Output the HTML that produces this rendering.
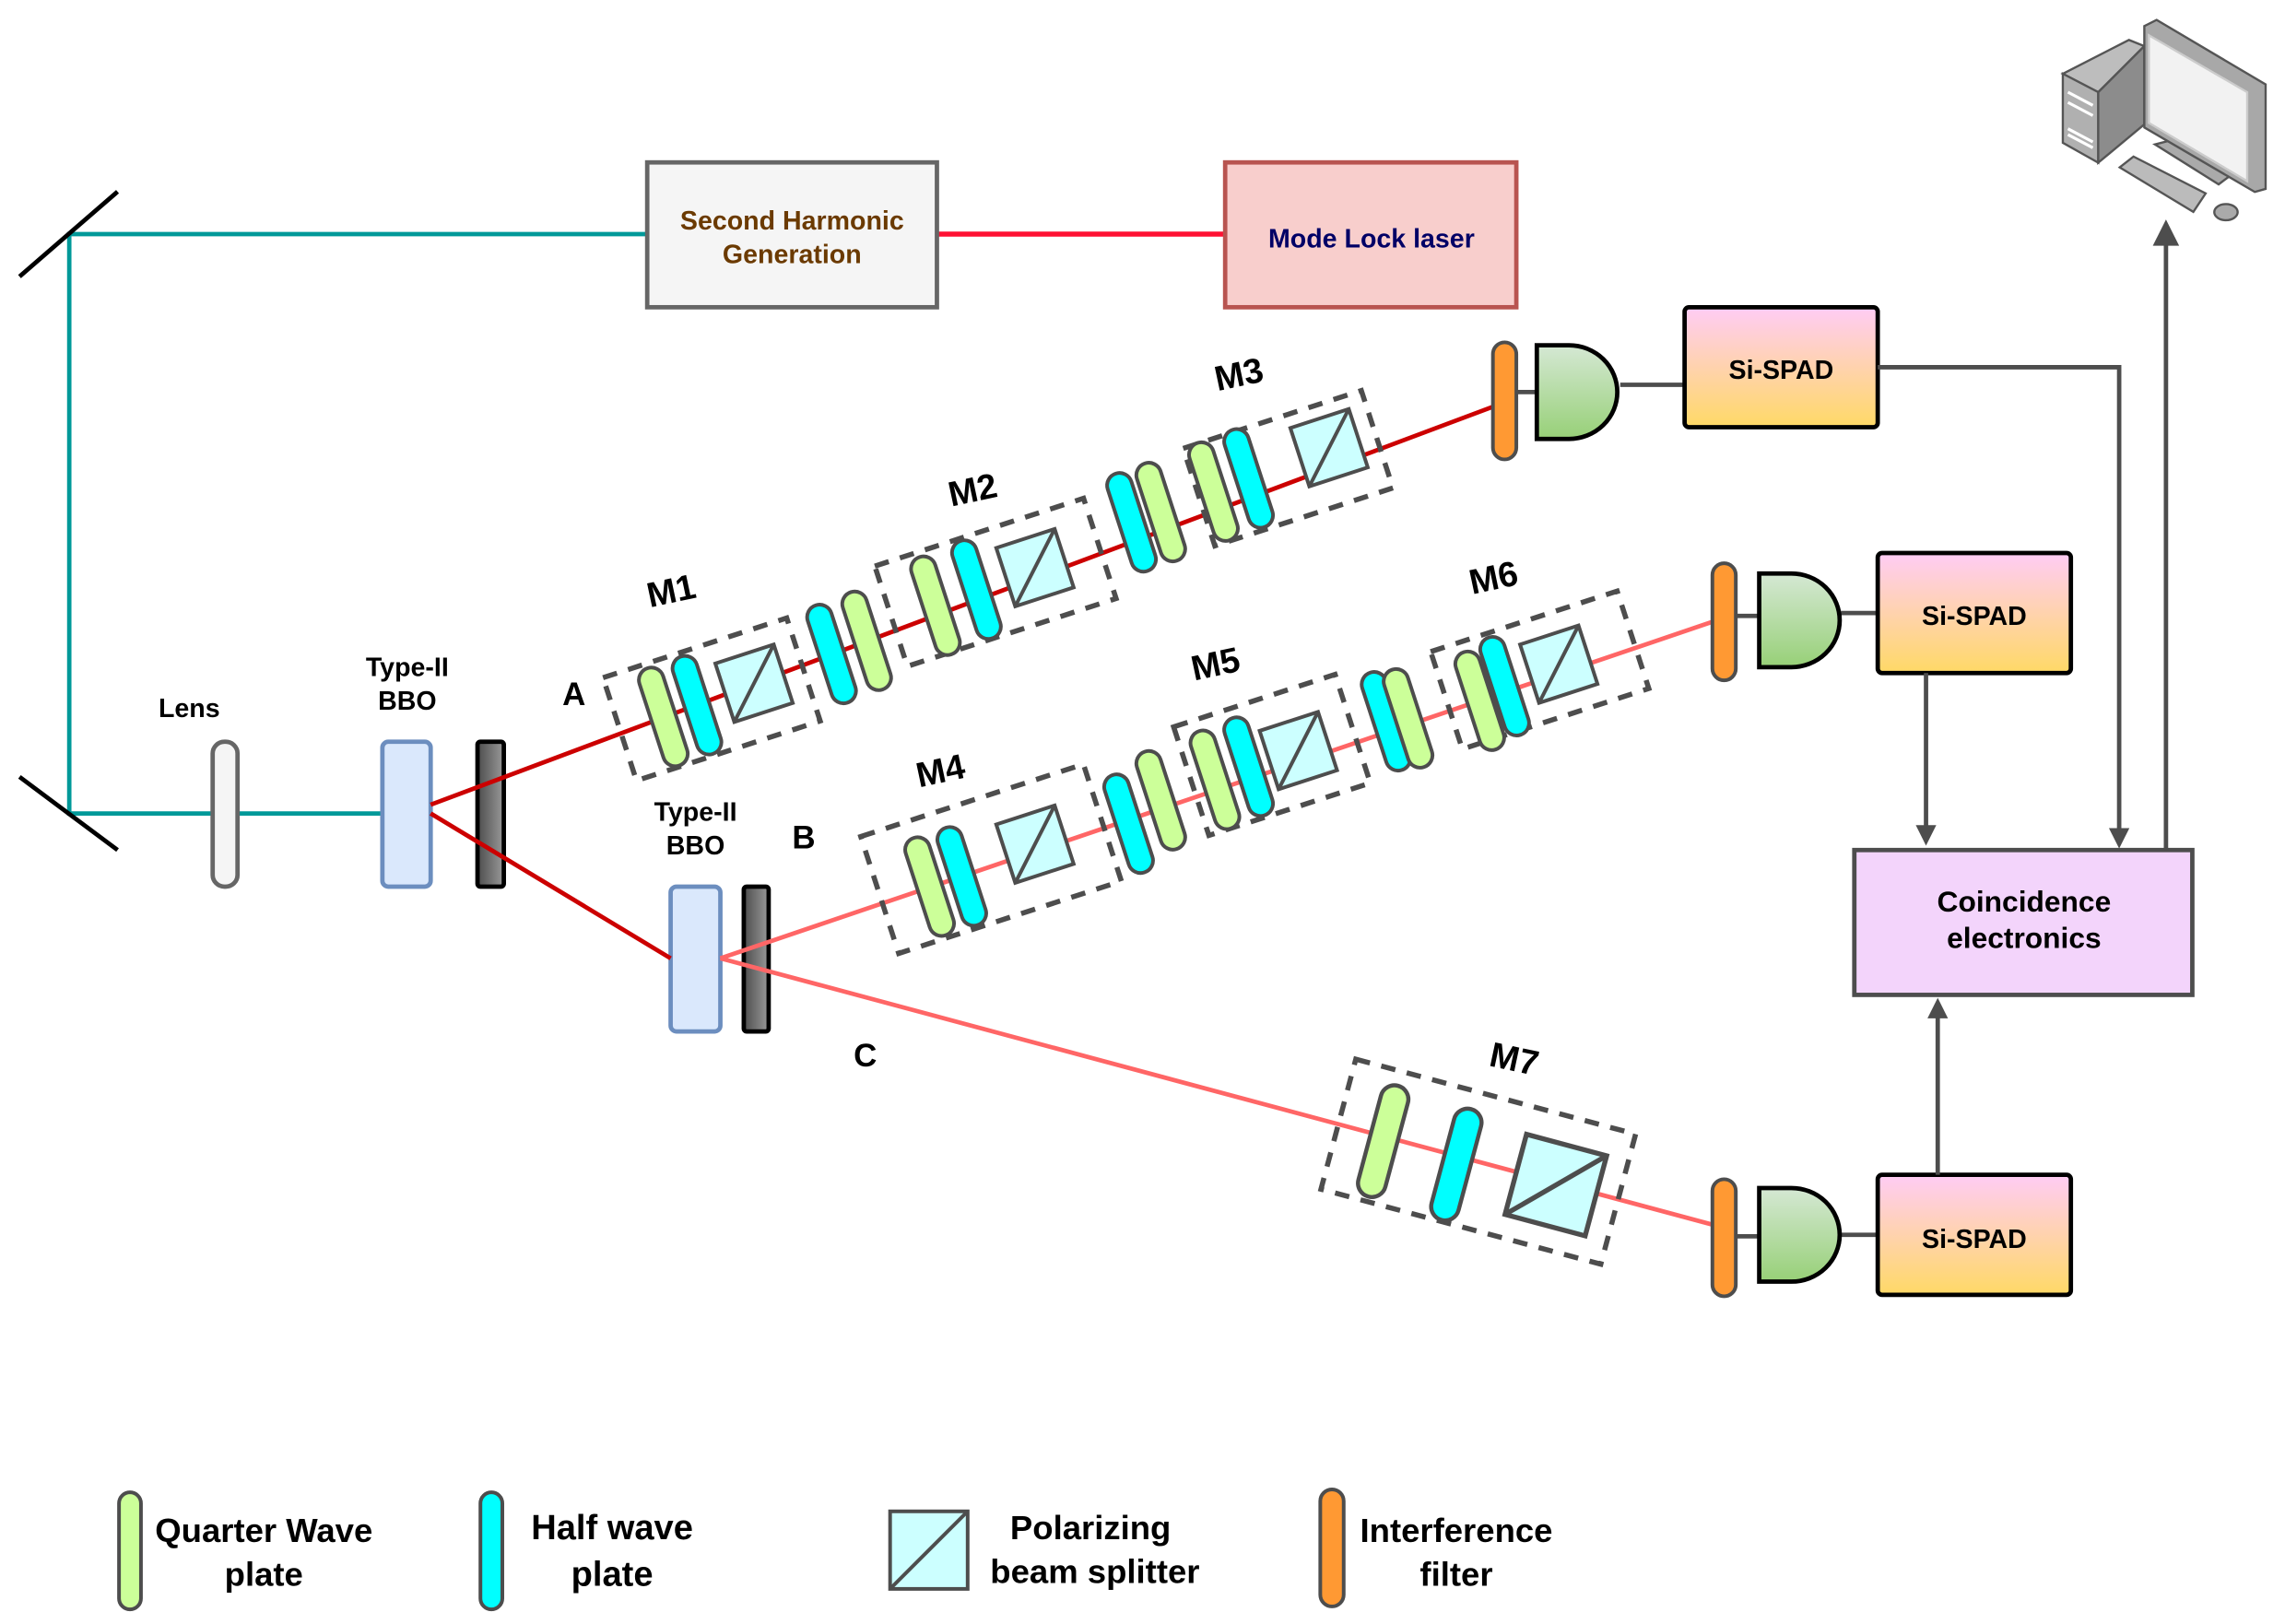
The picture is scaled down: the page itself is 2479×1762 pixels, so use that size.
<!DOCTYPE html>
<html><head><meta charset="utf-8"><style>
html,body{margin:0;padding:0;background:#fff;}
svg{display:block;}
text{font-family:"Liberation Sans",sans-serif;font-weight:bold;}
</style></head><body>
<svg width="2479" height="1762" viewBox="0 0 1561 1110" xmlns="http://www.w3.org/2000/svg">
<defs>
<linearGradient id="spad" x1="0" y1="0" x2="0" y2="1"><stop offset="0" stop-color="#ffccf5"/><stop offset="1" stop-color="#ffd966"/></linearGradient>
<linearGradient id="det" x1="0" y1="0" x2="0" y2="1"><stop offset="0" stop-color="#d5e8d4"/><stop offset="1" stop-color="#97d077"/></linearGradient>
<linearGradient id="dark" x1="0" y1="0" x2="1" y2="0"><stop offset="0" stop-color="#4d4d4d"/><stop offset="1" stop-color="#999"/></linearGradient>
<g id="q"><rect x="-8.5" y="-35" width="17" height="70" rx="8.5" fill="#ccff99" stroke="#4d4d4d" stroke-width="2.5"/></g>
<g id="h"><rect x="-8.5" y="-35" width="17" height="70" rx="8.5" fill="#00ffff" stroke="#4d4d4d" stroke-width="2.5"/></g>
<g id="p"><rect x="-21" y="-21" width="42" height="42" fill="#ccffff" stroke="#4d4d4d" stroke-width="2.5"/><line x1="-21" y1="21" x2="21" y2="-21" stroke="#4d4d4d" stroke-width="2.5"/></g>
<g id="f"><rect x="-8" y="-40" width="16" height="80" rx="8" fill="#ff9933" stroke="#4d4d4d" stroke-width="2.5"/></g>
<g id="d"><path d="M0,-32 L22,-32 A33,32 0 0 1 22,32 L0,32 Z" fill="url(#det)" stroke="#000" stroke-width="3"/></g>
</defs>

<!-- pump path -->
<polyline points="442,160 47,160 47,556 262,556" fill="none" stroke="#009999" stroke-width="3"/>
<line x1="13" y1="189" x2="80" y2="131" stroke="#000" stroke-width="3"/>
<line x1="13" y1="531" x2="80" y2="581" stroke="#000" stroke-width="3"/>
<line x1="640" y1="160" x2="837" y2="160" stroke="#ff1133" stroke-width="3.5"/>
<rect x="442" y="111" width="198" height="99" fill="#f5f5f5" stroke="#666" stroke-width="3"/>
<text x="541" y="157" font-size="18" fill="#6b3a00" text-anchor="middle">Second Harmonic</text>
<text x="541" y="180" font-size="18" fill="#6b3a00" text-anchor="middle">Generation</text>
<rect x="837" y="111" width="199" height="99" fill="#f8cecc" stroke="#b85450" stroke-width="3"/>
<text x="937" y="169" font-size="18" fill="#000066" text-anchor="middle">Mode Lock laser</text>

<!-- lens, BBO -->
<rect x="145" y="507" width="17" height="99" rx="8" fill="#f5f5f5" stroke="#666" stroke-width="3"/>
<text x="129" y="490" font-size="18" text-anchor="middle">Lens</text>
<rect x="261" y="507" width="33" height="99" rx="4" fill="#dae8fc" stroke="#6c8ebf" stroke-width="3"/>
<rect x="326" y="507" width="18" height="99" rx="2" fill="url(#dark)" stroke="#000" stroke-width="3"/>
<text x="278" y="462" font-size="18" text-anchor="middle">Type-II</text>
<text x="278" y="485" font-size="18" text-anchor="middle">BBO</text>
<rect x="458" y="606" width="34" height="99" rx="4" fill="#dae8fc" stroke="#6c8ebf" stroke-width="3"/>
<rect x="508" y="606" width="17" height="99" rx="2" fill="url(#dark)" stroke="#000" stroke-width="3"/>
<text x="475" y="561" font-size="18" text-anchor="middle">Type-II</text>
<text x="475" y="584" font-size="18" text-anchor="middle">BBO</text>

<!-- beams -->
<line x1="294" y1="550" x2="1020" y2="278" stroke="#cc0000" stroke-width="3"/>
<line x1="294" y1="556" x2="458" y2="655" stroke="#cc0000" stroke-width="3"/>
<line x1="492" y1="655" x2="1170" y2="425" stroke="#ff6666" stroke-width="3"/>
<line x1="492" y1="655" x2="1170" y2="837" stroke="#ff6666" stroke-width="3"/>

<text x="392" y="482" font-size="22" text-anchor="middle">A</text>
<text x="549" y="580" font-size="22" text-anchor="middle">B</text>
<text x="591" y="729" font-size="22" text-anchor="middle">C</text>

<!-- dashed boxes -->
<g fill="none" stroke="#4d4d4d" stroke-width="3.5" stroke-dasharray="10 8">
<rect x="-66" y="-37" width="132" height="74" transform="translate(486,478) rotate(-18)"/>
<rect x="-75" y="-36" width="150" height="72" transform="translate(680,398) rotate(-18)"/>
<rect x="-64" y="-35" width="128" height="70" transform="translate(880,320) rotate(-18)"/>
<rect x="-80" y="-42" width="160" height="84" transform="translate(677,587) rotate(-18)"/>
<rect x="-58" y="-39" width="116" height="78" transform="translate(869,516) rotate(-18)"/>
<rect x="-67" y="-35" width="134" height="70" transform="translate(1052,458) rotate(-18)"/>
<rect x="-99" y="-46" width="198" height="92" transform="translate(1010,794) rotate(15)"/>
</g>

<!-- beam A elements -->
<use href="#q" transform="translate(453,490) rotate(-18)"/>
<use href="#h" transform="translate(476,482) rotate(-18)"/>
<use href="#p" transform="translate(515,467) rotate(-18)"/>
<use href="#h" transform="translate(568,447) rotate(-18)"/>
<use href="#q" transform="translate(592,438) rotate(-18)"/>
<use href="#q" transform="translate(639,414) rotate(-18)"/>
<use href="#h" transform="translate(667,403) rotate(-18)"/>
<use href="#p" transform="translate(707,388) rotate(-18)"/>
<use href="#h" transform="translate(773,357) rotate(-18)"/>
<use href="#q" transform="translate(793,350) rotate(-18)"/>
<use href="#q" transform="translate(829,336) rotate(-18)"/>
<use href="#h" transform="translate(853,327) rotate(-18)"/>
<use href="#p" transform="translate(908,306) rotate(-18)"/>
<!-- beam B -->
<use href="#q" transform="translate(635,606) rotate(-18)"/>
<use href="#h" transform="translate(657,599) rotate(-18)"/>
<use href="#p" transform="translate(707,577) rotate(-18)"/>
<use href="#h" transform="translate(771,563) rotate(-18)"/>
<use href="#q" transform="translate(793,547) rotate(-18)"/>
<use href="#q" transform="translate(830,533) rotate(-18)"/>
<use href="#h" transform="translate(853,524) rotate(-18)"/>
<use href="#p" transform="translate(887,513) rotate(-18)"/>
<use href="#h" transform="translate(947,493) rotate(-18)"/>
<use href="#q" transform="translate(962,491) rotate(-18)"/>
<use href="#q" transform="translate(1011,479) rotate(-18)"/>
<use href="#h" transform="translate(1028,469) rotate(-18)"/>
<use href="#p" transform="translate(1065,454) rotate(-18)"/>
<!-- beam C -->
<use href="#q" transform="translate(945,780) rotate(15) scale(1.12)"/>
<use href="#h" transform="translate(995,796) rotate(15) scale(1.12)"/>
<use href="#p" transform="translate(1063,810) rotate(15) scale(1.35)"/>

<!-- M labels -->
<g font-size="24">
<text x="458" y="412" text-anchor="middle" transform="rotate(-12 458 402)">M1</text>
<text x="664" y="343" text-anchor="middle" transform="rotate(-12 664 333)">M2</text>
<text x="846" y="264" text-anchor="middle" transform="rotate(-12 846 254)">M3</text>
<text x="642" y="535" text-anchor="middle" transform="rotate(-12 642 525)">M4</text>
<text x="830" y="462" text-anchor="middle" transform="rotate(-12 830 452)">M5</text>
<text x="1020" y="403" text-anchor="middle" transform="rotate(-12 1020 393)">M6</text>
<text x="1035" y="732" text-anchor="middle" transform="rotate(12 1035 722)">M7</text>
</g>

<!-- detectors -->
<g stroke="#4d4d4d" stroke-width="3">
<line x1="1036" y1="268" x2="1050" y2="268"/><line x1="1107" y1="263" x2="1151" y2="263"/>
<line x1="1186" y1="421" x2="1202" y2="421"/><line x1="1258" y1="419" x2="1283" y2="419"/>
<line x1="1186" y1="845" x2="1202" y2="845"/><line x1="1258" y1="844" x2="1283" y2="844"/>
</g>
<use href="#f" transform="translate(1028,274)"/>
<use href="#f" transform="translate(1178,425)"/>
<use href="#f" transform="translate(1178,846)"/>
<use href="#d" transform="translate(1050,268)"/>
<use href="#d" transform="translate(1202,424)"/>
<use href="#d" transform="translate(1202,844)"/>

<rect x="1151" y="210" width="132" height="82" rx="3" fill="url(#spad)" stroke="#000" stroke-width="3"/>
<text x="1217" y="259" font-size="18" text-anchor="middle">Si-SPAD</text>
<rect x="1283" y="378" width="132" height="82" rx="3" fill="url(#spad)" stroke="#000" stroke-width="3"/>
<text x="1349" y="427" font-size="18" text-anchor="middle">Si-SPAD</text>
<rect x="1283" y="803" width="132" height="82" rx="3" fill="url(#spad)" stroke="#000" stroke-width="3"/>
<text x="1349" y="853" font-size="18" text-anchor="middle">Si-SPAD</text>

<rect x="1267" y="581" width="231" height="99" fill="#f3d4fb" stroke="#4d4d4d" stroke-width="3"/>
<text x="1383" y="623" font-size="20" text-anchor="middle">Coincidence</text>
<text x="1383" y="648" font-size="20" text-anchor="middle">electronics</text>

<!-- connectors -->
<g stroke="#4d4d4d" stroke-width="3" fill="none">
<polyline points="1283,251 1448,251 1448,568"/>
<line x1="1316" y1="460" x2="1316" y2="566"/>
<line x1="1324" y1="803" x2="1324" y2="695"/>
<line x1="1480" y1="581" x2="1480" y2="165"/>
</g>
<g fill="#4d4d4d">
<polygon points="1441,566 1455,566 1448,580"/>
<polygon points="1309,564 1323,564 1316,578"/>
<polygon points="1317,696 1331,696 1324,682"/>
<polygon points="1471,168 1489,168 1480,150"/>
</g>

<!-- computer -->
<g stroke="#555" stroke-width="1.5">
<polygon points="1409.5,50.4 1454.7,27.3 1465.2,31.5 1433.7,63" fill="#bdbdbd"/>
<polygon points="1409.5,50.4 1433.7,63 1433.7,111.2 1409.5,97.6" fill="#b0b0b0"/>
<polygon points="1433.7,63 1465.2,31.5 1465.2,85 1433.7,111.2" fill="#8c8c8c"/>
<polygon points="1472.5,98.7 1483,96 1524,120 1516,126" fill="#aaa"/>
<polygon points="1465.2,17.8 1473.6,13.6 1548.1,57.7 1548.1,129.1 1540.7,131.2 1465.2,87.1" fill="#a8a8a8"/>
<polygon points="1468.3,24.1 1535.5,63 1535.5,123.8 1468.3,84" fill="#f2f2f2" stroke="#ccc"/>
<polygon points="1448.4,114.4 1457.8,107 1507.1,132.2 1498.7,144.8" fill="#bbb"/>
<ellipse cx="1521" cy="145" rx="8" ry="5.5" fill="#aaa"/>
</g>
<g stroke="#fff" stroke-width="2"><line x1="1413" y1="63" x2="1430" y2="72"/><line x1="1413" y1="70" x2="1430" y2="79"/><line x1="1413" y1="88" x2="1430" y2="97"/><line x1="1413" y1="92" x2="1430" y2="101"/></g>

<!-- legend -->
<rect x="81" y="1020" width="15" height="80" rx="7.5" fill="#ccff99" stroke="#4d4d4d" stroke-width="2.5"/>
<text x="180" y="1054" font-size="23" text-anchor="middle">Quarter Wave</text>
<text x="180" y="1084" font-size="23" text-anchor="middle">plate</text>
<rect x="328" y="1020" width="15" height="80" rx="7.5" fill="#00ffff" stroke="#4d4d4d" stroke-width="2.5"/>
<text x="418" y="1052" font-size="24" text-anchor="middle">Half wave</text>
<text x="418" y="1084" font-size="24" text-anchor="middle">plate</text>
<rect x="608" y="1033" width="53" height="53" fill="#ccffff" stroke="#4d4d4d" stroke-width="2.5"/>
<line x1="608" y1="1086" x2="661" y2="1033" stroke="#4d4d4d" stroke-width="2.5"/>
<text x="745" y="1052" font-size="23" text-anchor="middle">Polarizing</text>
<text x="748" y="1082" font-size="23" text-anchor="middle">beam splitter</text>
<rect x="902" y="1018" width="16" height="80" rx="8" fill="#ff9933" stroke="#4d4d4d" stroke-width="2.5"/>
<text x="995" y="1054" font-size="23" text-anchor="middle">Interference</text>
<text x="995" y="1084" font-size="23" text-anchor="middle">filter</text>
</svg>
</body></html>
